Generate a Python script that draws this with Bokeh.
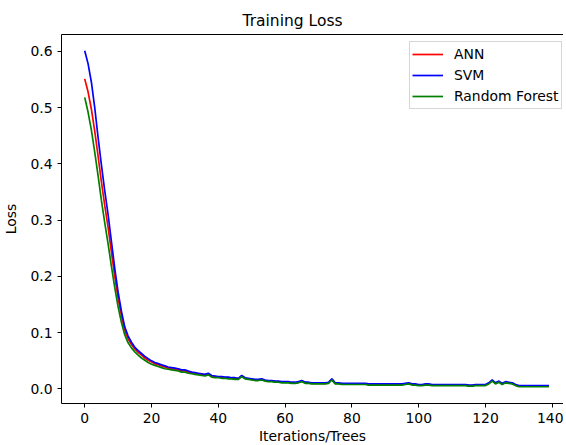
from bokeh.plotting import figure
from bokeh.models import (ColumnDataSource, Legend, LegendItem, LinearAxis, FixedTicker, Range1d,
                          PrintfTickFormatter)
from bokeh.embed import file_html
from bokeh.resources import INLINE

iterations = list(range(140))

svm_loss = [
    0.601, 0.578, 0.545, 0.500, 0.447, 0.398, 0.352, 0.310, 0.262, 0.214,
    0.172, 0.138, 0.110, 0.094, 0.083, 0.074, 0.068, 0.063, 0.058, 0.054,
    0.050, 0.047, 0.045, 0.043, 0.041, 0.039, 0.038, 0.037, 0.036, 0.034,
    0.034, 0.032, 0.030, 0.029, 0.028, 0.027, 0.026, 0.028, 0.024, 0.023,
    0.022, 0.022, 0.021, 0.021, 0.020, 0.020, 0.019, 0.024, 0.020, 0.019,
    0.018, 0.017, 0.017, 0.018, 0.016, 0.015, 0.015, 0.014, 0.014, 0.013,
    0.013, 0.013, 0.012, 0.012, 0.013, 0.015, 0.012, 0.012, 0.011, 0.011,
    0.011, 0.011, 0.011, 0.012, 0.018, 0.011, 0.011, 0.010, 0.010, 0.010,
    0.010, 0.010, 0.010, 0.010, 0.010, 0.009, 0.009, 0.009, 0.009, 0.009,
    0.009, 0.009, 0.009, 0.009, 0.009, 0.009, 0.010, 0.011, 0.009, 0.009,
    0.008, 0.008, 0.009, 0.009, 0.008, 0.008, 0.008, 0.008, 0.008, 0.008,
    0.008, 0.008, 0.008, 0.008, 0.008, 0.007, 0.007, 0.008, 0.008, 0.008,
    0.008, 0.011, 0.016, 0.011, 0.014, 0.010, 0.013, 0.012, 0.011, 0.008,
    0.006, 0.006, 0.006, 0.006, 0.006, 0.006, 0.006, 0.006, 0.006, 0.006,
]

ann_loss = [
    0.551, 0.528, 0.497, 0.458, 0.414, 0.368, 0.326, 0.287, 0.243, 0.200,
    0.161, 0.130, 0.104, 0.089, 0.079, 0.071, 0.065, 0.060, 0.055, 0.051,
    0.048, 0.045, 0.043, 0.041, 0.039, 0.037, 0.036, 0.035, 0.034, 0.032,
    0.032, 0.030, 0.029, 0.028, 0.027, 0.026, 0.025, 0.027, 0.023, 0.022,
    0.021, 0.021, 0.020, 0.020, 0.019, 0.019, 0.018, 0.023, 0.019, 0.018,
    0.017, 0.016, 0.016, 0.017, 0.015, 0.014, 0.014, 0.013, 0.013, 0.012,
    0.012, 0.012, 0.011, 0.011, 0.012, 0.014, 0.011, 0.011, 0.010, 0.010,
    0.010, 0.010, 0.010, 0.011, 0.017, 0.010, 0.010, 0.009, 0.009, 0.009,
    0.009, 0.009, 0.009, 0.009, 0.009, 0.008, 0.008, 0.008, 0.008, 0.008,
    0.008, 0.008, 0.008, 0.008, 0.008, 0.008, 0.009, 0.010, 0.008, 0.008,
    0.007, 0.007, 0.008, 0.008, 0.007, 0.007, 0.007, 0.007, 0.007, 0.007,
    0.007, 0.007, 0.007, 0.007, 0.007, 0.006, 0.006, 0.007, 0.007, 0.007,
    0.007, 0.010, 0.015, 0.010, 0.013, 0.009, 0.012, 0.011, 0.010, 0.007,
    0.005, 0.005, 0.005, 0.005, 0.005, 0.005, 0.005, 0.005, 0.005, 0.005,
]

rf_loss = [
    0.518, 0.492, 0.460, 0.421, 0.379, 0.335, 0.295, 0.258, 0.218, 0.180,
    0.146, 0.118, 0.096, 0.082, 0.073, 0.066, 0.060, 0.055, 0.051, 0.047,
    0.044, 0.042, 0.040, 0.038, 0.036, 0.035, 0.034, 0.033, 0.032, 0.030,
    0.030, 0.028, 0.027, 0.026, 0.025, 0.024, 0.023, 0.025, 0.021, 0.020,
    0.020, 0.019, 0.019, 0.018, 0.018, 0.017, 0.017, 0.022, 0.018, 0.017,
    0.016, 0.015, 0.015, 0.016, 0.014, 0.013, 0.013, 0.012, 0.012, 0.011,
    0.011, 0.011, 0.010, 0.010, 0.011, 0.013, 0.010, 0.010, 0.009, 0.009,
    0.009, 0.009, 0.009, 0.010, 0.016, 0.009, 0.009, 0.008, 0.008, 0.008,
    0.008, 0.008, 0.008, 0.008, 0.008, 0.007, 0.007, 0.007, 0.007, 0.007,
    0.007, 0.007, 0.007, 0.007, 0.007, 0.007, 0.008, 0.009, 0.007, 0.007,
    0.006, 0.006, 0.007, 0.007, 0.006, 0.006, 0.006, 0.006, 0.006, 0.006,
    0.006, 0.006, 0.006, 0.006, 0.006, 0.005, 0.005, 0.006, 0.006, 0.006,
    0.006, 0.009, 0.014, 0.009, 0.012, 0.008, 0.011, 0.010, 0.009, 0.006,
    0.004, 0.004, 0.004, 0.004, 0.004, 0.004, 0.004, 0.004, 0.004, 0.004,
]

series_names = ["ANN", "SVM", "Random Forest"]
series_colors = ["red", "blue", "green"]
x_ticks = [0, 20, 40, 60, 80, 100, 120, 140]
y_ticks = [0.0, 0.1, 0.2, 0.3, 0.4, 0.5, 0.6]

FONT = "DejaVu Sans"
FS = "13.9px"

p = figure(
    output_backend="svg", toolbar_location=None,
    frame_width=502, frame_height=369,
    min_border_left=56, min_border_right=0, min_border_top=34, min_border_bottom=34,
    x_range=Range1d(-6.95, 143.35), y_range=Range1d(-0.0258, 0.6298),
)
p.outline_line_color = None
p.grid.visible = False
p.background_fill_color = "white"
p.border_fill_color = "white"

p.title.text = "Training Loss"
p.title.align = "left"
p.title.offset = 181
p.title.text_font = FONT
p.title.text_font_style = "normal"
p.title.text_font_size = "15.5px"
p.title.text_color = "black"

src = ColumnDataSource(dict(x=iterations, ann=ann_loss, svm=svm_loss, rf=rf_loss))
renderers = []
for col, color in zip(["ann", "svm", "rf"], series_colors):
    r = p.line("x", col, source=src, line_color=color, line_width=1.7)
    renderers.append(r)

for ax in (p.xaxis[0], p.yaxis[0]):
    ax.axis_line_color = "black"
    ax.axis_line_width = 1
    ax.major_tick_line_color = "black"
    ax.major_tick_out = 4
    ax.major_tick_in = 0
    ax.minor_tick_out = 0
    ax.minor_tick_in = 0
    ax.major_label_text_font = FONT
    ax.major_label_text_font_size = FS
    ax.major_label_text_color = "black"
    ax.axis_label_text_font = FONT
    ax.axis_label_text_font_size = FS
    ax.axis_label_text_font_style = "normal"
    ax.axis_label_text_color = "black"
    ax.major_label_standoff = 5

p.xaxis[0].ticker = FixedTicker(ticks=x_ticks)
p.yaxis[0].ticker = FixedTicker(ticks=y_ticks)
p.yaxis[0].formatter = PrintfTickFormatter(format="%.1f")
p.xaxis[0].axis_label = "Iterations/Trees"
p.yaxis[0].axis_label = "Loss"
p.xaxis[0].axis_label_standoff = 2
p.yaxis[0].axis_label_standoff = 8

top_axis = LinearAxis(ticker=FixedTicker(ticks=[]), axis_line_color="black", axis_line_width=1,
                      major_label_text_font_size="0px", major_tick_out=0, minor_tick_out=0)
p.add_layout(top_axis, "above")

legend = Legend(
    items=[LegendItem(label=n, renderers=[r]) for n, r in zip(series_names, renderers)],
    location=(348, 294),
    label_text_font=FONT, label_text_font_size=FS, label_text_color="black",
    glyph_width=31, glyph_height=20, label_height=20, label_standoff=11,
    spacing=1, padding=2, margin=0,
    border_line_color="#cccccc", border_line_alpha=0.8, border_line_width=1,
    background_fill_color="white", background_fill_alpha=0.8,
)
p.add_layout(legend, "center")

open("out.html", "w").write(file_html(p, INLINE))
